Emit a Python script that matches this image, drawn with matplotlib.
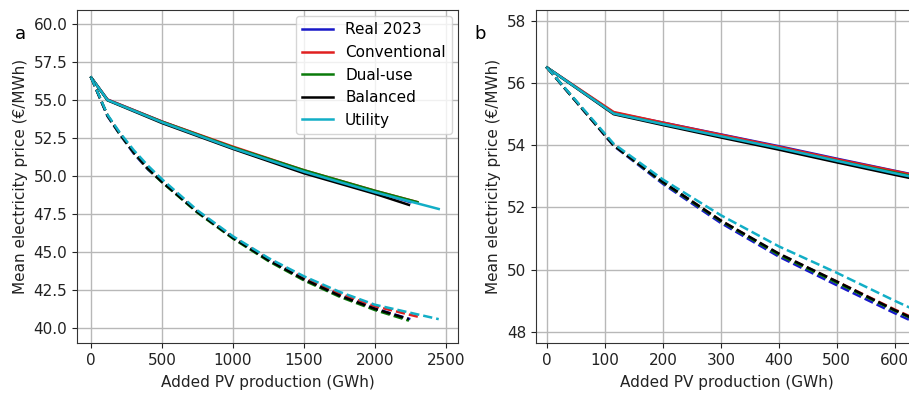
import matplotlib
matplotlib.use("Agg")
import matplotlib.pyplot as plt

# Panel a: added PV production (GWh) vs mean price (EUR/MWh)
scenarios = ['Real 2023', 'Conventional', 'Dual-use', 'Balanced', 'Utility']
colors = ['#1818c8', '#e02020', '#0a7a0a', '#000000', '#12aec6']

a_solid_x = {
    'Real 2023':    [0, 115, 500, 1000, 1500, 2000, 2250],
    'Conventional': [0, 115, 500, 1000, 1500, 2000, 2300],
    'Dual-use':     [0, 115, 500, 1000, 1500, 2000, 2300],
    'Balanced':     [0, 115, 500, 1000, 1500, 2000, 2240],
    'Utility':      [0, 115, 500, 1000, 1500, 2000, 2450],
}
a_solid_y = {
    'Real 2023':    [56.5, 55.05, 53.6, 51.9, 50.35, 49.0, 48.3],
    'Conventional': [56.5, 55.05, 53.6, 51.95, 50.4, 49.05, 48.3],
    'Dual-use':     [56.5, 55.02, 53.58, 51.9, 50.4, 49.05, 48.3],
    'Balanced':     [56.5, 55.0, 53.5, 51.8, 50.2, 48.85, 48.12],
    'Utility':      [56.5, 55.02, 53.55, 51.85, 50.3, 48.95, 47.85],
}
a_dash_x = {
    'Real 2023':    [0, 115, 200, 300, 400, 500, 750, 1000, 1250, 1500, 1750, 2000, 2250],
    'Conventional': [0, 115, 200, 300, 400, 500, 750, 1000, 1250, 1500, 1750, 2000, 2330],
    'Dual-use':     [0, 115, 200, 300, 400, 500, 750, 1000, 1250, 1500, 1750, 2000, 2240],
    'Balanced':     [0, 115, 200, 300, 400, 500, 750, 1000, 1250, 1500, 1750, 2000, 2240],
    'Utility':      [0, 115, 200, 300, 400, 500, 750, 1000, 1250, 1500, 1750, 2000, 2450],
}
a_dash_y = {
    'Real 2023':    [56.5, 53.95, 52.78, 51.5, 50.45, 49.62, 47.65, 45.95, 44.5, 43.25, 42.2, 41.3, 40.6],
    'Conventional': [56.5, 54.0, 52.82, 51.58, 50.5, 49.66, 47.68, 46.0, 44.55, 43.32, 42.3, 41.45, 40.7],
    'Dual-use':     [56.5, 54.0, 52.8, 51.56, 50.48, 49.6, 47.6, 45.9, 44.42, 43.15, 42.08, 41.2, 40.5],
    'Balanced':     [56.5, 54.0, 52.82, 51.58, 50.52, 49.64, 47.65, 45.95, 44.48, 43.22, 42.15, 41.28, 40.6],
    'Utility':      [56.5, 54.05, 52.9, 51.72, 50.7, 49.8, 47.75, 46.05, 44.62, 43.42, 42.4, 41.55, 40.6],
}

# Panel b
b_x = [0, 115, 200, 300, 400, 500, 600, 700]
b_solid_y = {
    'Real 2023':    [56.5, 55.05, 54.73, 54.35, 53.97, 53.57, 53.18, 52.8],
    'Conventional': [56.5, 55.07, 54.73, 54.34, 53.95, 53.55, 53.17, 52.78],
    'Dual-use':     [56.5, 55.02, 54.68, 54.28, 53.9, 53.5, 53.12, 52.74],
    'Balanced':     [56.5, 55.0, 54.65, 54.25, 53.86, 53.45, 53.05, 52.66],
    'Utility':      [56.5, 55.02, 54.68, 54.29, 53.91, 53.5, 53.1, 52.72],
}
b_dash_y = {
    'Real 2023':    [56.5, 53.98, 52.76, 51.5, 50.42, 49.5, 48.6, 47.75],
    'Conventional': [56.5, 54.0, 52.82, 51.58, 50.5, 49.62, 48.72, 47.88],
    'Dual-use':     [56.5, 54.0, 52.8, 51.56, 50.48, 49.58, 48.68, 47.83],
    'Balanced':     [56.5, 54.0, 52.82, 51.58, 50.52, 49.62, 48.7, 47.85],
    'Utility':      [56.5, 54.05, 52.9, 51.75, 50.75, 49.9, 49.0, 48.15],
}

fig = plt.figure(figsize=(9.09, 3.95), dpi=100)
ax_a = fig.add_axes([0.0847, 0.1316, 0.419, 0.843])
ax_b = fig.add_axes([0.5897, 0.1316, 0.42, 0.843])

lw = 1.8
for name, c in zip(scenarios, colors):
    ax_a.plot(a_solid_x[name], a_solid_y[name], color=c, lw=lw, label=name)
for name, c in zip(scenarios, colors):
    ax_a.plot(a_dash_x[name], a_dash_y[name], color=c, lw=lw, ls='--')

for name, c in zip(scenarios, colors):
    ax_b.plot(b_x, b_solid_y[name], color=c, lw=lw)
for name, c in zip(scenarios, colors):
    ax_b.plot(b_x, b_dash_y[name], color=c, lw=lw, ls='--')

ax_a.set_xlim(-100, 2585)
ax_a.set_ylim(39.03, 60.94)
ax_a.set_xticks([0, 500, 1000, 1500, 2000, 2500])
ax_a.set_yticks([40.0, 42.5, 45.0, 47.5, 50.0, 52.5, 55.0, 57.5, 60.0])
ax_a.set_yticklabels(['40.0', '42.5', '45.0', '47.5', '50.0', '52.5', '55.0', '57.5', '60.0'])

ax_b.set_xlim(-19, 640)
ax_b.set_ylim(47.64, 58.35)
ax_b.set_xticks([0, 100, 200, 300, 400, 500, 600])
ax_b.set_yticks([48, 50, 52, 54, 56, 58])

for ax in (ax_a, ax_b):
    ax.grid(True, color='#b8b8b8', lw=1.0)
    ax.set_axisbelow(True)
    ax.set_xlabel('Added PV production (GWh)', fontsize=11, color='#222222', labelpad=5)
    ax.set_ylabel('Mean electricity price (€/MWh)', fontsize=11, color='#222222')
    ax.tick_params(labelsize=11, colors='#222222')
    for s in ax.spines.values():
        s.set_color('#333333')

ax_a.legend(loc='upper right', fontsize=11, handlelength=2.0, borderaxespad=0.4)

fig.text(0.023, 0.915, 'a', fontsize=13, ha='center', va='center')
fig.text(0.528, 0.915, 'b', fontsize=13, ha='center', va='center')

fig.savefig('out.png', dpi=100)
